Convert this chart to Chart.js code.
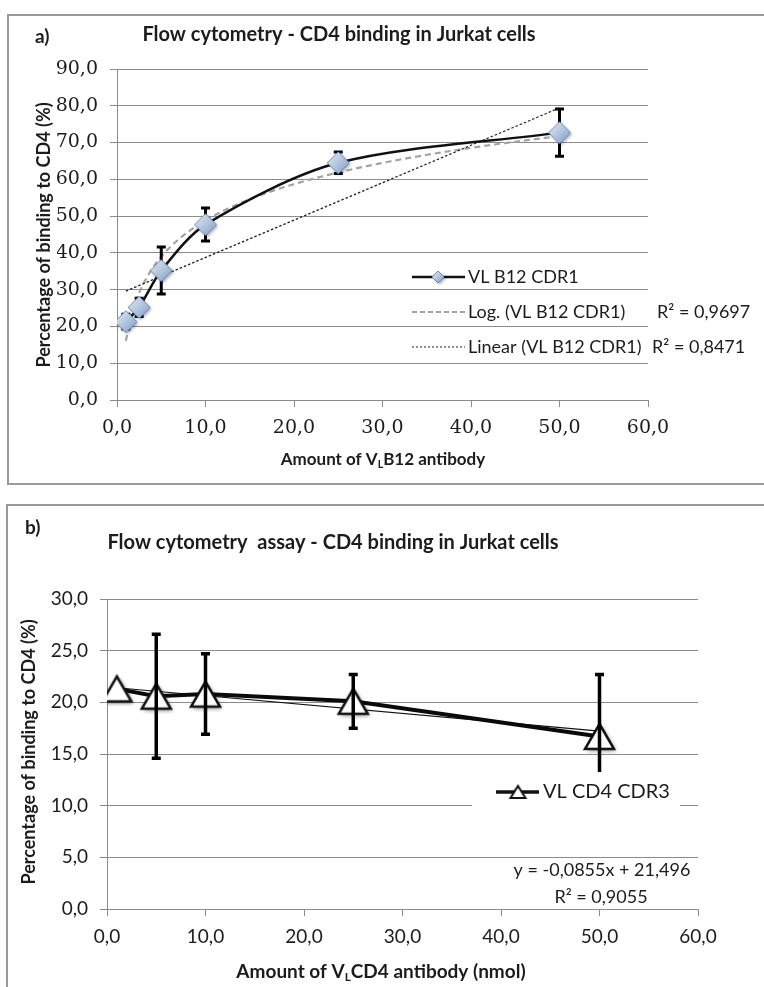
<!DOCTYPE html>
<html>
<head>
<meta charset="utf-8">
<script src="https://cdn.jsdelivr.net/npm/chart.js@4.4.1/dist/chart.umd.min.js"></script>
<style>
    html, body { margin: 0; padding: 0; background: #fff; }
    #wrap { position: relative; width: 764px; height: 987px; overflow: hidden; }
    canvas { position: absolute; left: 0; }
</style>
</head>
<body>
<div id="wrap">
    <canvas id="chartA" width="764" height="492" style="top:0"></canvas>
    <canvas id="chartB" width="764" height="495" style="top:492px"></canvas>
</div>
<script>
// Panel a) - VL B12 CDR1
const doseA = [1, 2.5, 5, 10, 25, 50];
const bindingA = [21.3, 25.2, 35.2, 47.7, 64.5, 72.7];
const errorA = [2.0, 2.5, 6.4, 4.5, 2.9, 6.4];
const xTicksA = [0, 10, 20, 30, 40, 50, 60];
const yTicksA = [0, 10, 20, 30, 40, 50, 60, 70, 80, 90];

// Panel b) - VL CD4 CDR3
const doseB = [1, 5, 10, 25, 50];
const bindingB = [21.3, 20.6, 20.8, 20.1, 16.7];
const errorB = [0, 6.0, 3.9, 2.6, 6.0];
const xTicksB = [0, 10, 20, 30, 40, 50, 60];
const yTicksB = [0, 5, 10, 15, 20, 25, 30];
const trendB = { slope: -0.0855, intercept: 21.496 };

const SANS = 'Lato, "Liberation Sans", sans-serif';
const SERIF = '"DejaVu Serif", "Liberation Serif", serif';
const GRID = '#8c8c8c';
const INK = '#1c1c1c';

const fmt = v => v.toFixed(1).replace('.', ',');

// least squares fit, used for the Excel-style trendlines of panel a
function linearFit(xs, ys) {
    const n = xs.length;
    const mx = xs.reduce((a, b) => a + b, 0) / n;
    const my = ys.reduce((a, b) => a + b, 0) / n;
    let sxy = 0, sxx = 0;
    xs.forEach((x, i) => { sxy += (x - mx) * (ys[i] - my); sxx += (x - mx) * (x - mx); });
    const slope = sxy / sxx;
    return { slope, intercept: my - slope * mx };
}
const linA = linearFit(doseA, bindingA);
const logA = linearFit(doseA.map(Math.log), bindingA);

// marker images
function makeDiamond(size) {
    const c = document.createElement('canvas');
    c.width = c.height = size + 8;
    const g = c.getContext('2d');
    const m = c.width / 2, r = size / 2;
    g.shadowColor = 'rgba(0,0,0,0.35)';
    g.shadowBlur = 3; g.shadowOffsetX = 1.5; g.shadowOffsetY = 1.5;
    g.beginPath();
    g.moveTo(m, m - r); g.lineTo(m + r, m); g.lineTo(m, m + r); g.lineTo(m - r, m); g.closePath();
    const grad = g.createLinearGradient(m - r, m - r, m + r, m + r);
    grad.addColorStop(0, '#e4ecf6');
    grad.addColorStop(0.5, '#b3c6df');
    grad.addColorStop(1, '#7f9cc4');
    g.fillStyle = grad;
    g.fill();
    g.shadowColor = 'transparent';
    g.strokeStyle = '#6d8bb3';
    g.lineWidth = 1;
    g.stroke();
    return c;
}

function makeTriangle(w, h, lw, shadow) {
    const c = document.createElement('canvas');
    c.width = w + 10; c.height = h + 10;
    const g = c.getContext('2d');
    const cx = c.width / 2, cy = c.height / 2;
    if (shadow) {
        g.shadowColor = 'rgba(0,0,0,0.45)';
        g.shadowBlur = 4; g.shadowOffsetX = 2; g.shadowOffsetY = 2;
    }
    g.beginPath();
    g.moveTo(cx, cy - h / 2); g.lineTo(cx + w / 2, cy + h / 2); g.lineTo(cx - w / 2, cy + h / 2); g.closePath();
    g.fillStyle = '#fff';
    g.fill();
    g.shadowColor = 'transparent';
    g.lineJoin = 'miter';
    g.strokeStyle = '#111';
    g.lineWidth = lw;
    g.stroke();
    return c;
}

const diamondBig = makeDiamond(22);
const diamondSmall = makeDiamond(12);
const triangleBig = makeTriangle(29, 25, 2.5, true);
const triangleSmall = makeTriangle(15, 12, 2, false);

// drawing helpers
function text(ctx, str, x, y, font, align) {
    ctx.save();
    ctx.font = font;
    ctx.fillStyle = INK;
    ctx.textAlign = align || 'left';
    ctx.textBaseline = 'middle';
    ctx.fillText(str, x, y);
    ctx.restore();
}

// text with a subscript part, centred on x
function subText(ctx, parts, x, y, size) {
    ctx.save();
    ctx.fillStyle = INK;
    ctx.textBaseline = 'middle';
    const fonts = parts.map(p => `bold ${p.sub ? size * 0.62 : size}px ${SANS}`);
    let total = 0;
    parts.forEach((p, i) => { ctx.font = fonts[i]; total += ctx.measureText(p.t).width; });
    let cx = x - total / 2;
    parts.forEach((p, i) => {
        ctx.font = fonts[i];
        ctx.fillText(p.t, cx, p.sub ? y + size * 0.28 : y);
        cx += ctx.measureText(p.t).width;
    });
    ctx.restore();
}

function vText(ctx, str, x, y, font) {
    ctx.save();
    ctx.translate(x, y);
    ctx.rotate(-Math.PI / 2);
    text(ctx, str, 0, 0, font, 'center');
    ctx.restore();
}

function panelBorder(ctx, left, top, bottom) {
    ctx.save();
    ctx.strokeStyle = '#9a9a9a';
    ctx.lineWidth = 2;
    ctx.beginPath();
    ctx.moveTo(780, top); ctx.lineTo(left, top); ctx.lineTo(left, bottom); ctx.lineTo(780, bottom);
    ctx.stroke();
    ctx.restore();
}

function strokeCurve(chart, fn, x0, x1, steps, style) {
    const { x, y } = chart.scales;
    const ctx = chart.ctx;
    ctx.save();
    ctx.strokeStyle = style.color;
    ctx.lineWidth = style.width;
    ctx.setLineDash(style.dash || []);
    ctx.beginPath();
    for (let i = 0; i <= steps; i++) {
        const v = x0 + (x1 - x0) * i / steps;
        const px = x.getPixelForValue(v), py = y.getPixelForValue(fn(v));
        if (i === 0) ctx.moveTo(px, py); else ctx.lineTo(px, py);
    }
    ctx.stroke();
    ctx.restore();
}

function drawErrorBars(chart, xs, ys, errs, width) {
    const { x, y } = chart.scales;
    const ctx = chart.ctx;
    ctx.save();
    ctx.strokeStyle = '#000';
    ctx.lineWidth = width;
    xs.forEach((v, i) => {
        if (!errs[i]) return;
        const px = x.getPixelForValue(v);
        const top = y.getPixelForValue(ys[i] + errs[i]);
        const bot = y.getPixelForValue(ys[i] - errs[i]);
        ctx.beginPath();
        ctx.moveTo(px, top); ctx.lineTo(px, bot);
        ctx.moveTo(px - 4.5, top); ctx.lineTo(px + 4.5, top);
        ctx.moveTo(px - 4.5, bot); ctx.lineTo(px + 4.5, bot);
        ctx.stroke();
    });
    ctx.restore();
}

function legendLine(ctx, x0, x1, y, color, width, dash) {
    ctx.save();
    ctx.strokeStyle = color;
    ctx.lineWidth = width;
    ctx.setLineDash(dash || []);
    ctx.beginPath();
    ctx.moveTo(x0, y); ctx.lineTo(x1, y);
    ctx.stroke();
    ctx.restore();
}

function axes(xTicks, yTicks, xMax, yMax, tickFont, xPad, yPad, yWidth) {
    return {
        x: {
            type: 'linear', min: 0, max: xMax,
            afterBuildTicks: s => { s.ticks = xTicks.map(v => ({ value: v })); },
            afterFit: s => { s.height = 40; },
            grid: { drawOnChartArea: false, color: GRID, tickLength: 7 },
            border: { color: GRID, width: 1 },
            ticks: { callback: fmt, font: tickFont, color: INK, padding: xPad, maxRotation: 0, autoSkip: false }
        },
        y: {
            type: 'linear', min: 0, max: yMax,
            afterBuildTicks: s => { s.ticks = yTicks.map(v => ({ value: v })); },
            afterFit: s => { s.width = yWidth; },
            grid: { color: GRID, tickLength: 7 },
            border: { color: GRID, width: 1 },
            ticks: { callback: fmt, font: tickFont, color: INK, padding: yPad, autoSkip: false }
        }
    };
}

// ---------- chart a ----------
const decorA = {
    id: 'decorA',
    beforeDatasetsDraw(chart) {
        strokeCurve(chart, v => logA.slope * Math.log(v) + logA.intercept, 1, 50, 120,
            { color: '#a3a3a3', width: 2.2, dash: [6, 4] });
        strokeCurve(chart, v => linA.slope * v + linA.intercept, 1, 50, 1,
            { color: '#222', width: 1.3, dash: [2.5, 2] });
        drawErrorBars(chart, doseA, bindingA, errorA, 3);
    },
    afterDraw(chart) {
        const ctx = chart.ctx;
        panelBorder(ctx, 8, 15, 484);
        text(ctx, 'a)', 35, 37, `bold 19px ${SANS}`);
        text(ctx, 'Flow cytometry - CD4 binding in Jurkat cells', 339, 35, `bold 20px ${SANS}`, 'center');
        vText(ctx, 'Percentage of binding to CD4 (%)', 44, 235, `bold 18px ${SANS}`);
        subText(ctx, [{ t: 'Amount of V' }, { t: 'L', sub: true }, { t: 'B12 antibody' }], 383, 460, 17);

        // legend
        const lf = `18px ${SANS}`;
        legendLine(ctx, 412, 465, 277, '#111', 2.5);
        ctx.drawImage(diamondSmall, 438 - diamondSmall.width / 2, 277 - diamondSmall.height / 2);
        text(ctx, 'VL B12 CDR1', 468, 277, lf);
        legendLine(ctx, 412, 465, 312, '#a3a3a3', 2, [5, 3]);
        text(ctx, 'Log. (VL B12 CDR1)', 468, 312, lf);
        text(ctx, 'R² = 0,9697', 657, 312, lf);
        legendLine(ctx, 412, 465, 347, '#222', 1.2, [2, 2]);
        text(ctx, 'Linear (VL B12 CDR1)', 468, 347, lf);
        text(ctx, 'R² = 0,8471', 652, 347, lf);
    }
};

new Chart(document.getElementById('chartA'), {
    type: 'line',
    data: {
        datasets: [{
            label: 'VL B12 CDR1',
            data: doseA.map((v, i) => ({ x: v, y: bindingA[i] })),
            borderColor: '#111',
            borderWidth: 2.5,
            tension: 0.3,
            pointStyle: diamondBig,
            pointRadius: 11
        }]
    },
    options: {
        responsive: false,
        animation: false,
        devicePixelRatio: 1,
        layout: { padding: { left: 57, right: 116, top: 69, bottom: 52 } },
        plugins: { legend: { display: false }, tooltip: { enabled: false } },
        scales: axes(xTicksA, yTicksA, 60, 90, { family: SERIF, size: 19 }, 10, 12, 60)
    },
    plugins: [decorA]
});

// ---------- chart b ----------
const decorB = {
    id: 'decorB',
    beforeDatasetsDraw(chart) {
        strokeCurve(chart, v => trendB.slope * v + trendB.intercept, 1, 50, 1,
            { color: '#111', width: 1.2 });
    },
    afterDatasetsDraw(chart) {
        drawErrorBars(chart, doseB, bindingB, errorB, 3.5);
    },
    afterDraw(chart) {
        const ctx = chart.ctx;
        panelBorder(ctx, 7, 13, 520);
        text(ctx, 'b)', 25, 36, `bold 19px ${SANS}`);
        text(ctx, 'Flow cytometry  assay - CD4 binding in Jurkat cells', 333, 51, `bold 20px ${SANS}`, 'center');
        vText(ctx, 'Percentage of binding to CD4 (%)', 29, 260, `bold 18px ${SANS}`);
        subText(ctx, [{ t: 'Amount of V' }, { t: 'L', sub: true }, { t: 'CD4 antibody (nmol)' }], 381, 480, 19);

        // legend box sits over the plot, as in the original
        ctx.save();
        ctx.fillStyle = '#fff';
        ctx.fillRect(472, 280, 208, 40);
        ctx.restore();
        legendLine(ctx, 496, 539, 300, '#111', 3.5);
        ctx.drawImage(triangleSmall, 518 - triangleSmall.width / 2, 300 - triangleSmall.height / 2);
        text(ctx, 'VL CD4 CDR3', 543, 300, `20px ${SANS}`);

        text(ctx, 'y = -0,0855x + 21,496', 602, 378, `18px ${SANS}`, 'center');
        text(ctx, 'R² = 0,9055', 601, 405, `18px ${SANS}`, 'center');
    }
};

new Chart(document.getElementById('chartB'), {
    type: 'line',
    data: {
        datasets: [{
            label: 'VL CD4 CDR3',
            data: doseB.map((v, i) => ({ x: v, y: bindingB[i] })),
            borderColor: '#0a0a0a',
            borderWidth: 4,
            tension: 0,
            pointStyle: triangleBig,
            pointRadius: 15
        }]
    },
    options: {
        responsive: false,
        animation: false,
        devicePixelRatio: 1,
        layout: { padding: { left: 47, right: 66, top: 107, bottom: 38 } },
        plugins: { legend: { display: false }, tooltip: { enabled: false } },
        scales: axes(xTicksB, yTicksB, 60, 30, { family: SANS, size: 19 }, 9, 12, 60)
    },
    plugins: [decorB]
});
</script>
</body>
</html>
